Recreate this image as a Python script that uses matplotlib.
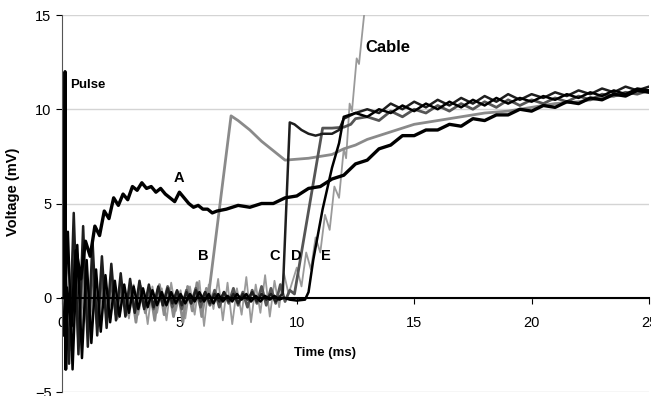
import numpy as np
import matplotlib
matplotlib.use("Agg")
import matplotlib.pyplot as plt

plt.rcParams["font.family"] = ["Liberation Sans", "DejaVu Sans"]

# Noisy baselines (uniform sampling, step NOISE_DT ms)
NOISE_DT = 0.2

cable_t0 = 0.05
cable_noise = [-1.0, 2.0, -2.2, 1.5, -1.8, 1.0, -1.4, 0.8, -1.1, 0.9, -1.2, 0.6,
               -1.0, 0.5, -1.1, 0.7, -0.9, 0.4, -1.4, 0.6, -0.8, 0.5, -1.2, 0.8,
               -0.7, 0.4, -1.1, 0.6, -0.9, 0.9, -1.5, 0.7, -0.6, 1.0, -1.2, 0.8,
               -1.4, 0.5, -0.9, 1.1, -1.3, 0.7, -0.8, 1.2, -1.0, 0.9, -0.5, 1.3, 0.2]
cable_t = [10.0, 10.2, 10.4, 10.6, 10.8, 11.0, 11.2, 11.4, 11.6, 11.8, 12.0,
           12.1, 12.25, 12.35, 12.55, 12.65, 12.9]
cable_v = [1.6, 0.6, 2.4, 1.5, 3.2, 2.4, 4.4, 3.6, 5.9, 5.3, 7.9,
           7.4, 10.3, 9.9, 12.7, 12.4, 15.4]

b_t0 = 0.15
b_noise = [1.5, -2.5, 2.0, -1.8, 1.2, -1.5, 0.8, -1.2, 0.9, -1.0, 0.6, -1.1,
           0.7, -0.9, 0.5, -1.3, 0.6, -0.8, 0.4, -1.2, 0.7, -0.9, 0.5, -1.0,
           0.3, -1.3, 0.6, -0.7, 0.8, -1.0, 0.5]
b_t = [6.25, 7.2, 7.5, 8.0, 8.5, 9.0, 9.5, 10.0, 10.5, 11.0, 11.5, 12.0, 12.5,
       13.0, 13.5, 14.0, 14.5, 15.0, 16.0, 17.0, 18.0, 19.0, 20.0, 21.0, 22.0,
       23.0, 24.0, 25.0]
b_v = [0.2, 9.65, 9.4, 8.9, 8.3, 7.8, 7.3, 7.35, 7.4, 7.5, 7.6, 7.9, 8.1,
       8.4, 8.6, 8.8, 9.0, 9.2, 9.4, 9.6, 9.8, 9.9, 10.1, 10.3, 10.4,
       10.6, 10.8, 11.0]

d_t0 = 0.1
d_noise = [1.2, -2.8, 3.0, -2.2, 2.4, -1.8, 1.6, -1.4, 1.2, -1.0, 0.9, -0.9,
           0.7, -0.6, 0.6, -0.7, 0.5, -0.5, 0.4, -0.6, 0.5, -0.4, 0.6, -0.5,
           0.3, -0.6, 0.4, -0.3, 0.5, -0.5, 0.3, -0.4, 0.4, -0.5, 0.3, -0.3,
           0.5, -0.4, 0.3, -0.5, 0.4, -0.3, 0.6, -0.4, 0.5, -0.3, 0.7, -0.2, 0.4]
d_t = [9.9, 11.1, 11.5, 12.0, 12.3, 12.5, 13.0, 13.5, 14.0, 14.5, 15.0, 15.5,
       16.0, 16.5, 17.0, 17.5, 18.0, 18.5, 19.0, 19.5, 20.0, 20.5, 21.0, 21.5,
       22.0, 22.5, 23.0, 23.5, 24.0, 24.5, 25.0]
d_v = [0.2, 9.0, 9.0, 9.05, 9.2, 9.5, 9.6, 9.4, 9.9, 9.6, 10.0, 9.8,
       10.2, 9.9, 10.3, 10.0, 10.4, 10.1, 10.5, 10.2, 10.5, 10.3, 10.6, 10.4,
       10.7, 10.5, 10.8, 10.7, 10.9, 10.8, 11.0]

c_t0 = 0.1
c_noise = [2.5, -3.5, 4.5, -3.0, 3.8, -2.6, 3.0, -2.0, 2.2, -1.6, 1.8, -1.2,
           1.3, -1.0, 1.0, -0.8, 0.9, -0.6, 0.7, -0.5, 0.6, -0.4, 0.5, -0.3,
           0.4, -0.4, 0.3, -0.3, 0.4, -0.2, 0.3, -0.3, 0.2, -0.2, 0.3, -0.2,
           0.2, -0.3, 0.2, -0.1, 0.3, -0.2, 0.2, -0.1, 0.2, -0.2, 0.1]
c_t = [9.4, 9.7, 9.9, 10.2, 10.5, 10.8, 11.1, 11.5, 11.8, 12.0, 12.5, 13.0,
       13.5, 14.0, 14.5, 15.0, 15.5, 16.0, 16.5, 17.0, 17.5, 18.0, 18.5, 19.0,
       19.5, 20.0, 20.5, 21.0, 21.5, 22.0, 22.5, 23.0, 23.5, 24.0, 24.5, 25.0]
c_v = [0.2, 9.3, 9.2, 8.9, 8.7, 8.6, 8.7, 8.7, 8.9, 9.5, 9.8, 10.0,
       9.8, 10.3, 10.0, 10.4, 10.1, 10.5, 10.2, 10.6, 10.3, 10.7, 10.4, 10.8,
       10.5, 10.8, 10.6, 10.9, 10.7, 11.0, 10.8, 11.1, 10.9, 11.2, 11.0, 11.2]

e_t0 = 0.05
e_noise = [-2.0, 3.5, -3.8, 2.8, -3.2, 2.0, -2.4, 1.5, -1.8, 1.2, -1.3, 0.9,
           -1.0, 0.7, -0.8, 0.6, -0.6, 0.5, -0.5, 0.4, -0.4, 0.3, -0.4, 0.3,
           -0.3, 0.2, -0.3, 0.2, -0.2, 0.3, -0.2, 0.2, -0.3, 0.2, -0.2, 0.1,
           -0.2, 0.2, -0.1, 0.2, -0.2, 0.1, -0.2, 0.1, -0.1, 0.1, -0.1, 0.0]
e_t = [9.7, 10.0, 10.35, 10.5, 10.7, 11.1, 11.5, 11.8, 12.0, 12.5, 13.0, 13.5,
       14.0, 14.5, 15.0, 15.5, 16.0, 16.5, 17.0, 17.5, 18.0, 18.5, 19.0, 19.5,
       20.0, 20.5, 21.0, 21.5, 22.0, 22.5, 23.0, 23.5, 24.0, 24.5, 25.0]
e_v = [-0.1, -0.15, -0.1, 0.3, 2.0, 4.7, 6.9, 8.2, 9.6, 9.8, 9.6, 10.0,
       9.8, 10.2, 9.9, 10.3, 10.0, 10.4, 10.1, 10.5, 10.2, 10.6, 10.3, 10.6,
       10.4, 10.7, 10.5, 10.8, 10.6, 10.9, 10.7, 11.0, 10.8, 11.1, 11.0]

a_t = [0.2, 0.4, 0.6, 0.8, 1.0, 1.2, 1.4, 1.6, 1.8, 2.0, 2.2, 2.4, 2.6, 2.8,
       3.0, 3.2, 3.4, 3.6, 3.8, 4.0, 4.2, 4.4, 4.6, 4.8, 5.0, 5.2, 5.4, 5.6,
       5.8, 6.0, 6.2, 6.4, 6.6, 7.0, 7.5, 8.0, 8.5, 9.0, 9.5, 10.0, 10.5,
       11.0, 11.5, 12.0, 12.5, 13.0, 13.5, 14.0, 14.5, 15.0, 15.5, 16.0,
       16.5, 17.0, 17.5, 18.0, 18.5, 19.0, 19.5, 20.0, 20.5, 21.0, 21.5,
       22.0, 22.5, 23.0, 23.5, 24.0, 24.5, 25.0]
a_v = [0.5, -1.5, 2.5, 1.0, 3.0, 2.2, 3.8, 3.3, 4.6, 4.2, 5.3, 4.9, 5.5, 5.2,
       5.9, 5.7, 6.1, 5.8, 5.9, 5.6, 5.8, 5.5, 5.3, 5.1, 5.6, 5.3, 5.0, 4.8,
       4.9, 4.7, 4.7, 4.5, 4.6, 4.7, 4.9, 4.8, 5.0, 5.0, 5.3, 5.4, 5.8,
       5.9, 6.3, 6.5, 7.1, 7.3, 7.9, 8.1, 8.6, 8.6, 8.9, 8.9,
       9.2, 9.1, 9.5, 9.4, 9.7, 9.7, 10.0, 9.9, 10.2, 10.1, 10.4,
       10.3, 10.6, 10.5, 10.8, 10.7, 11.0, 10.9]

pulse_t = [0.1, 0.13, 0.16, 0.2]
pulse_v = [0.0, 12.0, -3.8, 0.0]


def trace(t0, noise, t, v):
    tn = [t0 + NOISE_DT * i for i in range(len(noise))]
    return np.array(tn + t), np.array(noise + v)


fig = plt.figure(figsize=(6.51, 3.96), dpi=100)
ax = fig.add_axes([62 / 651, 4 / 396, 587 / 651, 377 / 396])

ax.plot(*trace(cable_t0, cable_noise, cable_t, cable_v), color="#9a9a9a", lw=1.3)
ax.plot(*trace(b_t0, b_noise, b_t, b_v), color="#8a8a8a", lw=2.0)
ax.plot(*trace(d_t0, d_noise, d_t, d_v), color="#555555", lw=2.0)
ax.plot(*trace(c_t0, c_noise, c_t, c_v), color="#1e1e1e", lw=1.8)
ax.plot(*trace(e_t0, e_noise, e_t, e_v), color="#000000", lw=1.8)
ax.plot(a_t, a_v, color="#000000", lw=2.4)
ax.plot(pulse_t, pulse_v, color="#000000", lw=2.2)

ax.set_xlim(0, 25)
ax.set_ylim(-5, 15)
ax.set_xticks([0, 5, 10, 15, 20, 25])
ax.set_yticks([-5, 0, 5, 10, 15])
ax.yaxis.grid(True, color="#d4d4d4", lw=1)
ax.set_axisbelow(True)

for s in ["top", "right"]:
    ax.spines[s].set_visible(False)
ax.spines["left"].set_color("#555555")
ax.spines["bottom"].set_position(("data", 0))
ax.spines["bottom"].set_linewidth(1.5)
ax.tick_params(axis="y", labelsize=10.5, length=4)
ax.tick_params(axis="x", labelsize=10.5, length=4, pad=9)

ax.set_ylabel("Voltage (mV)", fontsize=10.5, fontweight="bold")
ax.yaxis.set_label_coords(-0.072, 0.53)
ax.text(11.2, -2.95, "Time (ms)", fontsize=9.5, fontweight="bold",
        ha="center", va="center")

labels = {"A": (5.0, 6.35), "B": (6.0, 2.2), "C": (9.06, 2.2),
          "D": (10.0, 2.2), "E": (11.23, 2.2)}
for name, (x, y) in labels.items():
    ax.text(x, y, name, fontsize=10.5, fontweight="bold", ha="center", va="center")
ax.text(0.34, 11.28, "Pulse", fontsize=9.5, fontweight="bold", ha="left", va="center")
ax.text(12.9, 13.27, "Cable", fontsize=12, fontweight="bold", ha="left", va="center")

fig.savefig("out.png", dpi=100)
